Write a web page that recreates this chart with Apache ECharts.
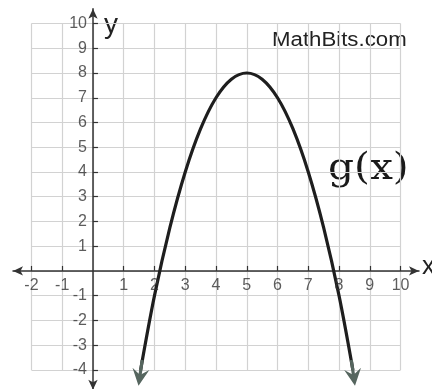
<!DOCTYPE html>
<html>
<head>
<meta charset="utf-8">
<script src="https://cdn.jsdelivr.net/npm/echarts@6/dist/echarts.min.js"></script>
<style>
  html, body { margin: 0; padding: 0; background: #fff; }
  #chart { width: 432px; height: 389px; }
</style>
</head>
<body>
<div id="chart"></div>
<script>
// Tick labels along each axis (0 is left unlabeled at the origin)
const xTicks = [-2, -1, 1, 2, 3, 4, 5, 6, 7, 8, 9, 10];
const yTicks = [-4, -3, -2, -1, 1, 2, 3, 4, 5, 6, 7, 8, 9, 10];

// Graph-paper lines
const gridXs = [-2, -1, 0, 1, 2, 3, 4, 5, 6, 7, 8, 9, 10];
const gridYs = [-4, -3, -2, -1, 0, 1, 2, 3, 4, 5, 6, 7, 8, 9, 10];

// Points on g(x)
const curveX = [1.55, 2, 2.5, 3, 3.5, 4, 4.5, 5, 5.5, 6, 6.5, 7, 7.5, 8, 8.45];
const curveY = [-4, -1, 1.75, 4, 5.75, 7, 7.75, 8, 7.75, 7, 5.75, 4, 1.75, -1, -4];

// Arrow tips at both ends of the curve: [from, to]
const leftArrow = [[1.6, -3.6], [1.52, -4.3]];
const rightArrow = [[8.4, -3.6], [8.48, -4.3]];

const curveData = curveX.map((x, i) => [x, curveY[i]]);

const gridLineData = [];
gridXs.forEach(x => gridLineData.push({ coords: [[x, gridYs[0]], [x, gridYs[gridYs.length - 1]]] }));
gridYs.forEach(y => gridLineData.push({ coords: [[gridXs[0], y], [gridXs[gridXs.length - 1], y]] }));

const chart = echarts.init(document.getElementById('chart'), null, { renderer: 'canvas' });

const fontFamily = 'Liberation Sans, Arial, sans-serif';
const tickLabel = { color: '#333', fontSize: 16, fontFamily };

// Number labels sit next to the axes through the origin
const xLabelSeries = {
  type: 'scatter',
  silent: true,
  symbolSize: 0,
  z: 7,
  data: xTicks.map(v => [v, 0]),
  label: { show: true, position: 'bottom', distance: 7, ...tickLabel, formatter: p => String(p.value[0]) }
};
const yLabelSeries = {
  type: 'scatter',
  silent: true,
  symbolSize: 0,
  z: 7,
  data: yTicks.map(v => [0, v]),
  label: { show: true, position: 'left', distance: 6, ...tickLabel, formatter: p => String(p.value[1]) }
};

chart.setOption({
  animation: false,
  backgroundColor: '#fff',
  grid: { left: 13, top: 8.7, width: 406, height: 381, containLabel: false, outerBoundsMode: 'none' },
  xAxis: {
    type: 'value',
    min: -2.6,
    max: 10.6,
    axisLine: {
      show: true, onZero: true,
      symbol: ['arrow', 'arrow'], symbolSize: [7, 10],
      lineStyle: { color: '#333', width: 1.5 }
    },
    axisTick: { show: true, inside: true, length: 5, customValues: xTicks, lineStyle: { color: '#333', width: 1.2 } },
    axisLabel: { show: false },
    splitLine: { show: false }
  },
  yAxis: {
    type: 'value',
    min: -4.8,
    max: 10.6,
    axisLine: {
      show: true, onZero: true,
      symbol: ['arrow', 'arrow'], symbolSize: [7, 10],
      lineStyle: { color: '#333', width: 1.5 }
    },
    axisTick: { show: true, inside: true, length: 5, customValues: yTicks, lineStyle: { color: '#333', width: 1.2 } },
    axisLabel: { show: false },
    splitLine: { show: false }
  },
  series: [
    {
      type: 'lines',
      coordinateSystem: 'cartesian2d',
      silent: true,
      z: 0,
      lineStyle: { color: '#d2d2d2', width: 1.2, opacity: 1 },
      data: gridLineData
    },
    {
      type: 'line',
      data: curveData,
      smooth: 0.35,
      showSymbol: false,
      silent: true,
      z: 5,
      lineStyle: { color: '#1e1e1e', width: 3.2 }
    },
    {
      type: 'lines',
      coordinateSystem: 'cartesian2d',
      silent: true,
      z: 6,
      symbol: ['none', 'path://M5,0 L10,11 L5,7 L0,11 Z'],
      symbolSize: [13, 17],
      lineStyle: { color: '#56665f', width: 3.2, opacity: 1 },
      data: [{ coords: leftArrow }, { coords: rightArrow }]
    },
    xLabelSeries,
    yLabelSeries
  ],
  graphic: [
    { type: 'text', x: 104, y: 11, style: { text: 'y', fontSize: 28, fill: '#222', fontFamily } },
    { type: 'text', x: 422, y: 254, style: { text: 'x', fontSize: 26, fill: '#222', fontFamily } },
    { type: 'text', x: 272, y: 31, scaleX: 1.14, style: { text: 'MathBits.com', fontSize: 19.5, fill: '#222', fontFamily } },
    { type: 'text', x: 328, y: 150, scaleX: 1.07, style: { text: 'g(x)', fontSize: 38, fill: '#1a1a1a', fontFamily: 'DejaVu Serif, serif' } }
  ]
});
</script>
</body>
</html>
